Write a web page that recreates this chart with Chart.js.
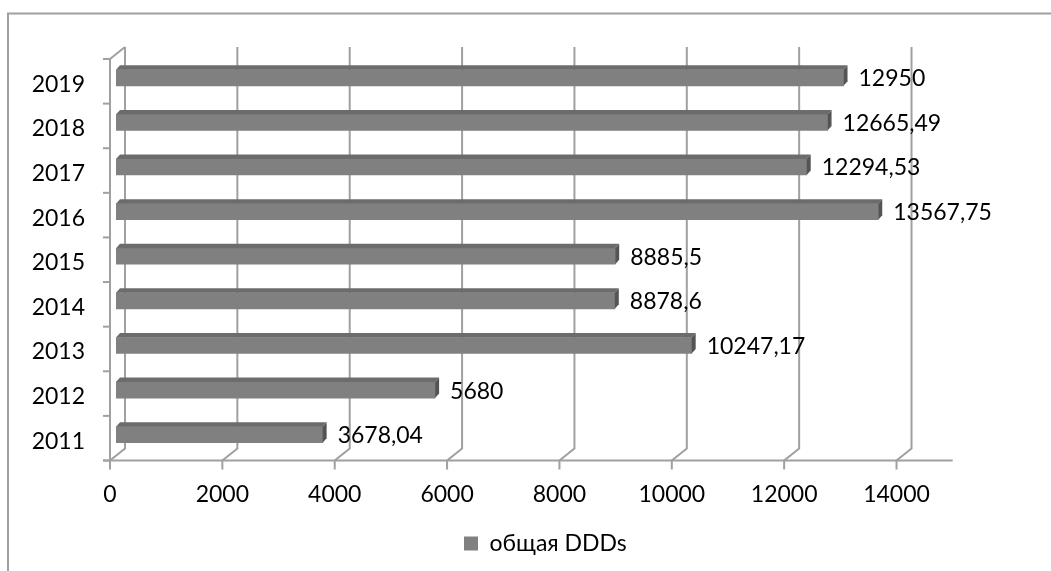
<!DOCTYPE html>
<html>
<head>
<meta charset="utf-8">
<title>общая DDDs</title>
<style>
  html, body { margin: 0; padding: 0; background: #ffffff; overflow: hidden; }
  canvas { display: block; }
</style>
<script src="https://cdn.jsdelivr.net/npm/chart.js@4.4.1/dist/chart.umd.min.js"></script>
</head>
<body>
<canvas id="chart" width="1051" height="571"></canvas>
<script>
// Yearly totals, oldest first
const years = ['2011', '2012', '2013', '2014', '2015', '2016', '2017', '2018', '2019'];
const totalDDDs = [3678.04, 5680, 10247.17, 8878.6, 8885.5, 13567.75, 12294.53, 12665.49, 12950];
const xTickValues = [0, 2000, 4000, 6000, 8000, 10000, 12000, 14000];
const seriesLabel = 'общая DDDs';
const xMax = 15000;

// Drawing styles
const FONT_FAMILY = 'Lato, "Open Sans", sans-serif';
const FONT_SIZE = 23;
const GRID_COLOR = '#a0a0a0';
const BAR_FRONT = '#808080';
const BAR_TOP = '#6c6c6c';
const BAR_SIDE = '#545454';
// Oblique 3D offsets relative to the plane the bars sit in
const FRONT = { dx: -6, dy: 3.5 };
const BACK = { dx: 9, dy: -8.5 };
const BAR_DEPTH = { dx: 4, dy: -4.5 };

const formatValue = v => String(v).replace('.', ',');

function line(ctx, pts) {
  ctx.beginPath();
  ctx.moveTo(pts[0][0], pts[0][1]);
  for (let i = 1; i < pts.length; i++) ctx.lineTo(pts[i][0], pts[i][1]);
  ctx.stroke();
}

function poly(ctx, pts, color) {
  ctx.beginPath();
  ctx.moveTo(pts[0][0], pts[0][1]);
  for (let i = 1; i < pts.length; i++) ctx.lineTo(pts[i][0], pts[i][1]);
  ctx.closePath();
  ctx.fillStyle = color;
  ctx.fill();
}

// Walls, floor, axis lines, bar depth faces and value labels
const obliqueFrame = {
  id: 'obliqueFrame',
  beforeDraw(chart) {
    const ctx = chart.ctx;
    ctx.save();
    ctx.strokeStyle = GRID_COLOR;
    ctx.lineWidth = 2;
    line(ctx, [[8, chart.height], [8, 13.5], [chart.width, 13.5]]);
    ctx.restore();
  },
  beforeDatasetsDraw(chart) {
    const ctx = chart.ctx;
    const xs = chart.scales.x;
    const area = chart.chartArea;
    const n = years.length;
    ctx.save();
    ctx.strokeStyle = GRID_COLOR;
    ctx.lineWidth = 2;
    ctx.lineCap = 'butt';

    const frontTop = area.top + FRONT.dy;
    const frontBottom = area.bottom + FRONT.dy;
    const backTop = area.top + BACK.dy;
    const backBottom = area.bottom + BACK.dy;
    const x0 = xs.getPixelForValue(0);

    // back-wall gridlines with their floor diagonals and tick marks
    xTickValues.forEach(v => {
      const px = xs.getPixelForValue(v);
      line(ctx, [[px + BACK.dx, backTop], [px + BACK.dx, backBottom], [px + FRONT.dx, frontBottom], [px + FRONT.dx, frontBottom + 9]]);
    });

    // front x axis
    line(ctx, [[x0 + FRONT.dx - 7, frontBottom], [xs.getPixelForValue(xMax) + FRONT.dx, frontBottom]]);

    // front y axis with the top edge of the side wall
    line(ctx, [[x0 + BACK.dx, backTop], [x0 + FRONT.dx, frontTop], [x0 + FRONT.dx, frontBottom]]);

    // category tick marks
    for (let i = 0; i <= n; i++) {
      const y = frontTop + i * (frontBottom - frontTop) / n;
      line(ctx, [[x0 + FRONT.dx - 7, y], [x0 + FRONT.dx, y]]);
    }
    ctx.restore();
  },
  afterDatasetsDraw(chart) {
    const ctx = chart.ctx;
    const meta = chart.getDatasetMeta(0);
    const data = chart.data.datasets[0].data;
    ctx.save();
    meta.data.forEach((bar, i) => {
      const { x, y, base, height } = bar.getProps(['x', 'y', 'base', 'height'], true);
      const top = y - height / 2;
      const d = BAR_DEPTH;
      poly(ctx, [[base, top], [x, top], [x + d.dx, top + d.dy], [base + d.dx, top + d.dy]], BAR_TOP);
      poly(ctx, [[x, top], [x + d.dx, top + d.dy], [x + d.dx, top + height + d.dy], [x, top + height]], BAR_SIDE);

      ctx.fillStyle = '#000000';
      ctx.font = FONT_SIZE + 'px ' + FONT_FAMILY;
      ctx.textAlign = 'left';
      ctx.textBaseline = 'middle';
      ctx.fillText(formatValue(data[i]), x + 15, y + 1);
    });
    ctx.restore();
  },
  afterLayout(chart) {
    // place the legend item so its swatch starts under the middle of the plot
    const lg = chart.legend;
    if (!lg || !lg.legendHitBoxes || !lg.legendHitBoxes.length) return;
    const w = lg.legendHitBoxes[0].width;
    const shift = (464 + w / 2) - (lg.left + lg.right) / 2;
    lg.left += shift;
    lg.right += shift;
  }
};

Chart.defaults.font.family = FONT_FAMILY;
Chart.defaults.font.size = FONT_SIZE;
Chart.defaults.color = '#000000';

new Chart(document.getElementById('chart'), {
  type: 'bar',
  data: {
    labels: years,
    datasets: [{
      label: seriesLabel,
      data: totalDDDs,
      backgroundColor: BAR_FRONT,
      borderWidth: 0,
      barThickness: 16
    }]
  },
  options: {
    indexAxis: 'y',
    responsive: false,
    animation: false,
    devicePixelRatio: 1,
    layout: { padding: { left: 0, right: 92.3, top: 55.5, bottom: 6 } },
    scales: {
      x: {
        min: 0,
        max: xMax,
        grid: { display: false },
        border: { display: false },
        afterBuildTicks: scale => { scale.ticks = xTickValues.map(v => ({ value: v })); },
        afterFit: scale => { scale.height = 65; },
        ticks: {
          padding: 16,
          labelOffset: FRONT.dx,
          maxRotation: 0,
          autoSkip: false,
          color: '#000000',
          callback: value => String(value)
        }
      },
      y: {
        reverse: true,
        grid: { display: false },
        border: { display: false },
        afterFit: scale => { scale.width = 116; },
        ticks: {
          padding: 23,
          labelOffset: 6.5,
          color: '#000000'
        }
      }
    },
    plugins: {
      legend: {
        position: 'bottom',
        labels: {
          boxWidth: 14,
          boxHeight: 14,
          padding: 10,
          color: '#000000',
          font: { size: FONT_SIZE }
        }
      },
      tooltip: { enabled: false }
    }
  },
  plugins: [obliqueFrame]
});
</script>
</body>
</html>
